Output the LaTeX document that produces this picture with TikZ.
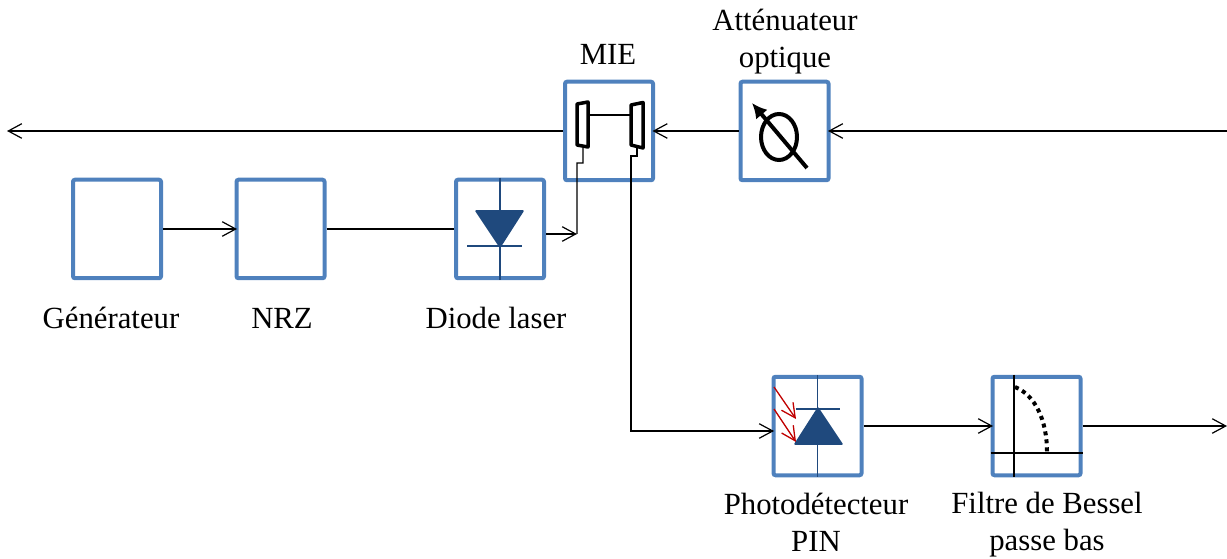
\documentclass[tikz,border=0pt]{standalone}
\usepackage{fontspec}
\setmainfont{Liberation Serif}
\usepackage{xcolor}
\usetikzlibrary{arrows.meta,positioning}
\definecolor{boxblue}{HTML}{4F81BD}
\definecolor{diodeblue}{HTML}{1F497D}
\definecolor{rayred}{HTML}{C00000}
\tikzset{
  blocknode/.style={draw=boxblue,line width=0.8mm,rounded corners=0.4mm,minimum width=17.6mm,minimum height=19.7mm,inner sep=0pt},
  txtnode/.style={align=center,inner sep=0pt,font=\fontsize{17.5}{21}\selectfont},
  sigedge/.style={-{Straight Barb[length=2.7mm,width=2.9mm,line width=0.24mm]},line width=0.24mm,black},
  boxedge/.style={sigedge,shorten >=-0.5mm},
  plainedge/.style={line width=0.24mm,black},
  diodefill/.style={fill=diodeblue,draw=diodeblue,line join=round,line width=0.3mm},
  diodeline/.style={draw=diodeblue,line width=0.3mm},
  muxshape/.style={draw=black,line width=0.7mm,line join=round,fill=white},
  rayedge/.style={-{Straight Barb[length=2.8mm,width=2.8mm,line width=0.26mm]},line width=0.26mm,rayred},
}
\begin{document}
\begin{tikzpicture}
  \useasboundingbox (0,0) rectangle (24.54,-11.18);
  \node[blocknode] (nGen) at (2.34,-4.58) {};
  \node[blocknode] (nNRZ) at (5.61,-4.58) {};
  \node[blocknode] (nLaser) at (10.00,-4.58) {};
  \node[blocknode] (nMIE) at (12.18,-2.62) {};
  \node[blocknode] (nAtt) at (15.69,-2.62) {};
  \node[blocknode] (nPIN) at (16.35,-8.52) {};
  \node[blocknode] (nBes) at (20.73,-8.52) {};
  \node[txtnode] (tGen) at (2.22,-6.36) {Générateur};
  \node[txtnode] (tNRZ) at (5.64,-6.36) {NRZ};
  \node[txtnode] (tLaser) at (9.92,-6.36) {Diode laser};
  \node[txtnode] (tMIE) at (12.16,-1.09) {MIE};
  \node[txtnode] (tAtt) at (15.70,-0.84) {Atténuateur\\optique};
  \node[txtnode] (tPIN) at (16.32,-10.45) {Photodétecteur\\PIN};
  \node[txtnode] (tBes) at (20.94,-10.49) {Filtre de Bessel\\passe bas};
  \coordinate (cLeft) at (0.14,-2.62);
  \coordinate (cRight) at (24.54,-2.62);
  \coordinate (cOut) at (24.54,-8.52);
  \coordinate (cLasIn) at (11.54,-4.68);
  \coordinate (cMuxA) at (11.66,-2.96);
  \coordinate (cMuxB) at (12.74,-2.96);
  \coordinate (cPinIn) at (15.46,-8.62);
  % mux mirrors
  \draw[plainedge] (11.76,-2.30) -- (12.62,-2.30);
  \draw[plainedge] (cMuxA) -- ++(0,-0.30) -- ++(-0.12,0) -- (cLasIn);
  \draw[plainedge] (cMuxB) -- ++(0,-0.16) -- ++(-0.12,0) |- (cPinIn);
  \draw[muxshape] (11.54,-2.08) -- (11.76,-2.04) -- (11.76,-2.94) -- (11.54,-2.90) -- cycle;
  \draw[muxshape] (12.62,-2.10) -- (12.86,-2.05) -- (12.86,-2.96) -- (12.62,-2.90) -- cycle;
  % attenuator
  \draw[line width=0.8mm] (15.58,-2.74) ellipse (0.36 and 0.46);
  \draw[line width=0.8mm,-{Latex[length=3mm,width=3mm]}] (16.14,-3.36) -- (15.04,-2.06);
  % laser diode
  \draw[diodeline] (nLaser.north) -- (nLaser.south);
  \draw[diodeline] (9.34,-4.92) -- (10.44,-4.92);
  \draw[diodefill] (9.52,-4.22) -- (10.46,-4.22) -- (10.00,-4.94) -- cycle;
  % photodiode
  \draw[diodeline] (nPIN.north) -- (nPIN.south);
  \draw[diodeline] (15.92,-8.18) -- (16.80,-8.18);
  \draw[diodefill] (15.90,-8.88) -- (16.84,-8.88) -- (16.36,-8.16) -- cycle;
  \draw[rayedge] (15.48,-7.74) -- (15.92,-8.38);
  \draw[rayedge] (15.48,-8.18) -- (15.92,-8.84);
  % bessel filter
  \draw[plainedge] (nBes.north -| 20.28,0) -- (nBes.south -| 20.28,0);
  \draw[plainedge] (nBes.west |- 0,-9.06) -- (nBes.east |- 0,-9.06);
  \draw[line width=0.8mm,dash pattern=on 0.8mm off 0.8mm] (20.30,-7.74) .. controls (20.70,-7.90) and (20.94,-8.40) .. (20.94,-9.04);
  % connectors
  \draw[boxedge] (cRight) -- (nAtt.east);
  \draw[boxedge] (nAtt.west) -- (nMIE.east);
  \draw[sigedge] (nMIE.west) -- (cLeft);
  \draw[boxedge] (nGen.east) -- (nNRZ.west);
  \draw[plainedge] (nNRZ.east) -- (nLaser.west);
  \draw[sigedge] (nLaser.east |- cLasIn) -- (cLasIn);
  \draw[boxedge] (cPinIn) ++(-0.5,0) -- (nPIN.west |- cPinIn);
  \draw[boxedge] (nPIN.east) -- (nBes.west);
  \draw[sigedge] (nBes.east) -- (cOut);
\end{tikzpicture}
\end{document}
